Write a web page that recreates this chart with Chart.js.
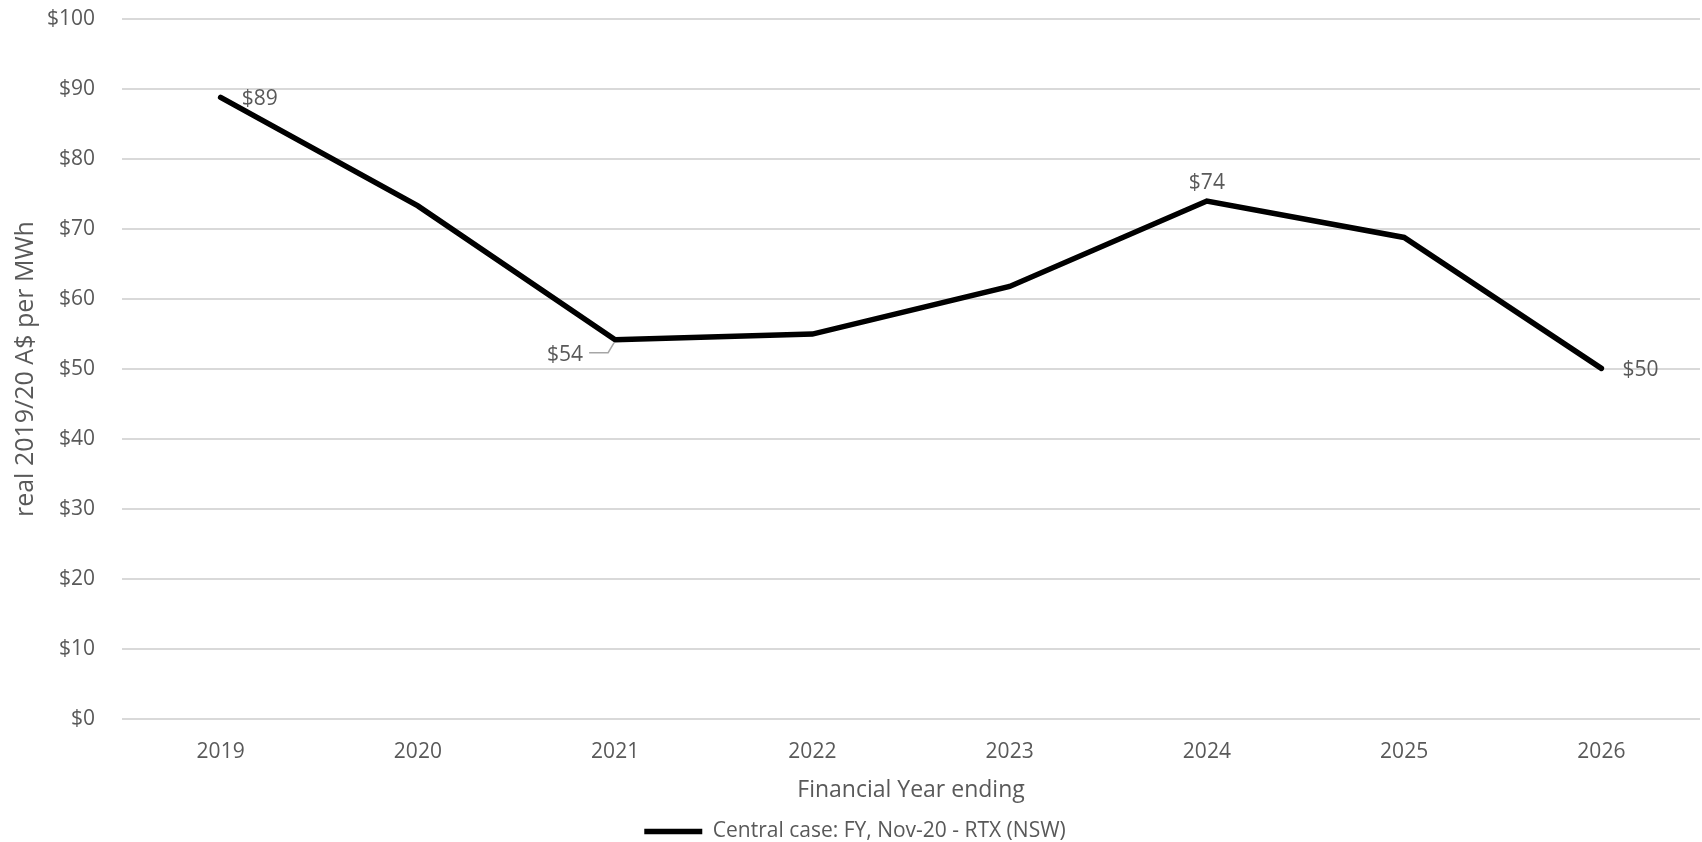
<!DOCTYPE html>
<html>
<head>
<meta charset="utf-8">
<title>Wholesale price outlook</title>
<script src="https://cdn.jsdelivr.net/npm/chart.js@4/dist/chart.umd.min.js"></script>
<style>
    html, body { margin: 0; padding: 0; background: #ffffff; }
    #price-chart { display: block; }
</style>
</head>
<body>
<canvas id="price-chart" width="1702" height="842"></canvas>
<script>
/****************************************************************
 * Central case price path, real 2019/20 A$ per MWh
 ***************************************************************/

const years = ['2019', '2020', '2021', '2022', '2023', '2024', '2025', '2026'];
const central_case = [88.8, 73.3, 54.2, 55.0, 61.8, 74.0, 68.8, 50.1];
const y_ticks = [0, 10, 20, 30, 40, 50, 60, 70, 80, 90, 100];

const series_name = 'Central case: FY, Nov-20 - RTX (NSW)';
const text_color = '#595959';
const font_family = '"Open Sans", "Noto Sans", sans-serif';

/**
 * Format a number as a whole dollar amount
 *
 * @param {number} value
 */
function dollars(value) {
    return '$' + Math.round(value);
}

/**
 * Draw value labels next to selected points.
 * 'where' maps a point index to the side the label sits on.
 */
const value_labels = {
    id: 'value_labels',
    afterDatasetsDraw(chart, args, opts) {
        const ctx = chart.ctx;
        const meta = chart.getDatasetMeta(0);
        const data = chart.data.datasets[0].data;

        ctx.save();
        ctx.font = opts.size + 'px ' + font_family;
        ctx.fillStyle = text_color;
        ctx.textBaseline = 'middle';

        Object.keys(opts.where).forEach(key => {
            let i = parseInt(key);
            let pt = meta.data[i];
            let text = dollars(data[i]);
            let side = opts.where[key];

            if (side == 'right') {
                ctx.textAlign = 'left';
                ctx.fillText(text, pt.x + 21, pt.y + 2);
            } else if (side == 'above') {
                ctx.textAlign = 'center';
                ctx.fillText(text, pt.x, pt.y - 18);
            } else if (side == 'below-left') {
                // label pulled off the line with a small leader
                let ly = pt.y + 13;

                ctx.strokeStyle = '#a6a6a6';
                ctx.lineWidth = 1.5;
                ctx.beginPath();
                ctx.moveTo(pt.x - 26, ly);
                ctx.lineTo(pt.x - 7, ly);
                ctx.lineTo(pt.x - 1, pt.y + 3);
                ctx.stroke();

                ctx.textAlign = 'right';
                ctx.fillText(text, pt.x - 32, ly + 2);
            }
        });

        ctx.restore();
    }
};

new Chart(document.getElementById('price-chart').getContext('2d'), {
    type: 'line',
    data: {
        labels: years,
        datasets: [{
            label: series_name,
            data: central_case,
            borderColor: '#000000',
            backgroundColor: '#000000',
            borderWidth: 5.5,
            borderCapStyle: 'round',
            borderJoinStyle: 'miter',
            pointRadius: 0,
            pointHoverRadius: 0,
            tension: 0,
            fill: false
        }]
    },
    options: {
        responsive: false,
        animation: false,
        layout: {
            padding: { top: 19, right: 2, bottom: -10, left: 10 }
        },
        scales: {
            x: {
                offset: true,
                grid: { display: false },
                border: { display: false },
                ticks: {
                    color: text_color,
                    padding: 12,
                    font: { family: font_family, size: 21 }
                },
                title: {
                    display: true,
                    text: 'Financial Year ending',
                    color: text_color,
                    padding: { top: 0, bottom: 15 },
                    font: { family: font_family, size: 23 }
                }
            },
            y: {
                min: 0,
                max: 100,
                afterBuildTicks: axis => {
                    axis.ticks = y_ticks.map(v => ({ value: v }));
                },
                // fixed gutter so the plot starts where the gridlines should
                afterFit: axis => {
                    axis.width = 112;
                },
                grid: {
                    color: '#d9d9d9',
                    lineWidth: 2,
                    drawTicks: true,
                    tickLength: 22,
                    tickColor: 'rgba(0, 0, 0, 0)'
                },
                border: { display: false },
                ticks: {
                    color: text_color,
                    padding: 5,
                    font: { family: font_family, size: 21 },
                    callback: value => '$' + value
                },
                title: {
                    display: true,
                    text: 'real 2019/20 A$ per MWh',
                    color: text_color,
                    padding: { top: 1, bottom: 0 },
                    font: { family: font_family, size: 25 }
                }
            }
        },
        plugins: {
            legend: {
                position: 'bottom',
                labels: {
                    color: text_color,
                    usePointStyle: true,
                    pointStyle: 'line',
                    pointStyleWidth: 58,
                    padding: 2,
                    font: { family: font_family, size: 21 }
                }
            },
            tooltip: { enabled: false },
            value_labels: {
                size: 21,
                where: { 0: 'right', 2: 'below-left', 5: 'above', 7: 'right' }
            }
        }
    },
    plugins: [value_labels]
});
</script>
</body>
</html>
